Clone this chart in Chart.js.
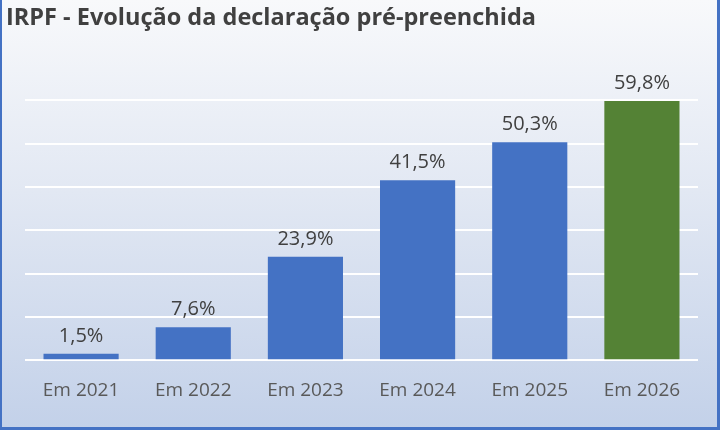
<!DOCTYPE html>
<html>
<head>
<meta charset="utf-8">
<script src="https://cdn.jsdelivr.net/npm/chart.js@4/dist/chart.umd.min.js"></script>
<style>
  html, body { margin: 0; padding: 0; }
  #box {
    width: 715px; height: 427px;
    border-left: 2px solid #4472c4;
    border-right: 3px solid #4472c4;
    border-bottom: 3px solid #4472c4;
    box-sizing: content-box;
    background: linear-gradient(to bottom, #f8f9fb 0%, #e2e8f3 45%, #c3d1e9 100%);
  }
  canvas { display: block; }
</style>
</head>
<body>
<div id="box"><canvas id="chart" width="715" height="427"></canvas></div>
<script>
const categories = ["Em 2021", "Em 2022", "Em 2023", "Em 2024", "Em 2025", "Em 2026"];
const values = [1.5, 7.6, 23.9, 41.5, 50.3, 59.8];
const barColors = ["#4472c4", "#4472c4", "#4472c4", "#4472c4", "#4472c4", "#548235"];

// draws the value above each bar, like the excel labels
const valueLabels = {
  id: "valueLabels",
  afterDatasetsDraw(chart) {
    const ctx = chart.ctx;
    const meta = chart.getDatasetMeta(0);
    ctx.save();
    ctx.font = "20px 'Open Sans'";
    ctx.fillStyle = "#404040";
    ctx.textAlign = "center";
    ctx.textBaseline = "alphabetic";
    meta.data.forEach((bar, i) => {
      const txt = values[i].toFixed(1).replace(".", ",") + "%";
      ctx.fillText(txt, bar.x, bar.y - 12);
    });
    ctx.restore();
  }
};

new Chart(document.getElementById("chart"), {
  type: "bar",
  data: {
    labels: categories,
    datasets: [{
      data: values,
      backgroundColor: barColors,
      barPercentage: 0.67,
      categoryPercentage: 1
    }]
  },
  options: {
    responsive: false,
    animation: false,
    layout: { padding: { left: 4, right: 19, top: 0, bottom: 14 } },
    plugins: {
      legend: { display: false },
      tooltip: { enabled: false },
      title: {
        display: true,
        text: "IRPF - Evolução da declaração pré-preenchida",
        align: "start",
        color: "#404040",
        font: { family: "'Open Sans'", size: 23.5, weight: "bold" },
        padding: { top: 4, bottom: 68 }
      }
    },
    scales: {
      x: {
        grid: { display: false },
        border: { display: false },
        ticks: { color: "#595959", font: { family: "'Open Sans'", size: 19 }, padding: 11 }
      },
      y: {
        min: 0, max: 60,
        ticks: { display: false, stepSize: 10 },
        border: { display: false },
        grid: { color: "#ffffff", lineWidth: 2, drawTicks: false },
        afterFit(scale) { scale.width = 19; }
      }
    }
  },
  plugins: [valueLabels]
});
</script>
</body>
</html>
